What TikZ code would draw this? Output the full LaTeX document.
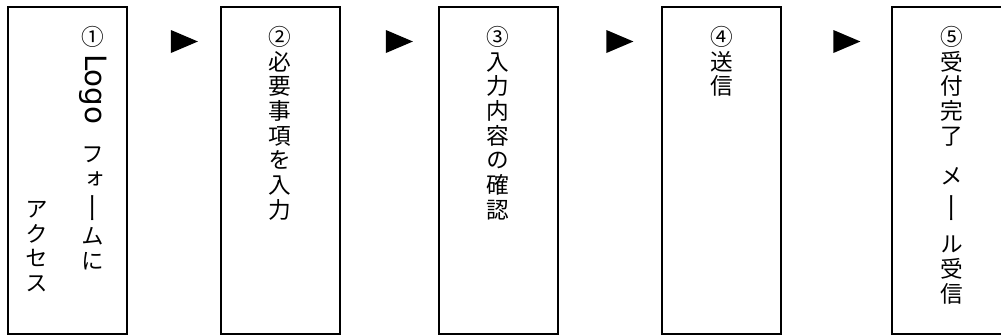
\documentclass[tikz,border=0pt]{standalone}
\usepackage{fontspec}
\usepackage{graphicx}
\newfontfamily\jpfont[RawFeature=+vert]{Noto Sans CJK JP}
\newfontfamily\logofont{DejaVu Sans}
\usetikzlibrary{shapes.geometric}

\newcommand{\longbar}{\raisebox{-2.6pt}{\scalebox{1}[1.4]{ー}}}

\tikzset{
  stepbox/.style={draw, line width=1.5pt, minimum width=89.25pt, minimum height=245.25pt, inner sep=0pt},
  tate/.style={anchor=north, align=center, inner sep=0pt, font=\jpfont\fontsize{17pt}{18.5pt}\selectfont},
  tri/.style={isosceles triangle, isosceles triangle stretches, fill=black, inner sep=0pt, minimum height=20.25pt, minimum width=17.25pt}
}

\begin{document}
\begin{tikzpicture}[x=0.75pt,y=-0.75pt]
\useasboundingbox (0,0) rectangle (1001,336);

\node[stepbox] (b1) at (67,170.5) {};
\node[stepbox] (b2) at (280,170.5) {};
\node[stepbox] (b3) at (498,170.5) {};
\node[stepbox] (b4) at (721.5,170.5) {};
\node[stepbox] (b5) at (951.5,170.5) {};

\node[tate] (t1a) at (93,26) {①\\[4pt]\rotatebox[origin=c]{-90}{\logofont\fontsize{22pt}{22pt}\selectfont Logo}\\[16pt]フ\\ォ\\[4pt]\longbar\\[2pt]ム\\に};
\node[tate] (t1b) at (37,201) {ア\\ク\\セ\\ス};

\node[tate] (t2) at (280,26) {②\\必\\要\\事\\項\\を\\入\\力};

\node[tate] (t3) at (498,26) {③\\入\\力\\内\\容\\の\\確\\認};

\node[tate] (t4) at (721.5,26) {④\\送\\信};

\node[tate] (t5) at (951.5,26) {⑤\\受\\付\\完\\了\\[12pt]メ\\[6pt]\longbar\\[8pt]ル\\受\\信};

\node[tri] (a1) at (178.5,41.5) {};
\node[tri] (a2) at (393.5,41.5) {};
\node[tri] (a3) at (614,41.5) {};
\node[tri] (a4) at (841,41.5) {};

\end{tikzpicture}
\end{document}
